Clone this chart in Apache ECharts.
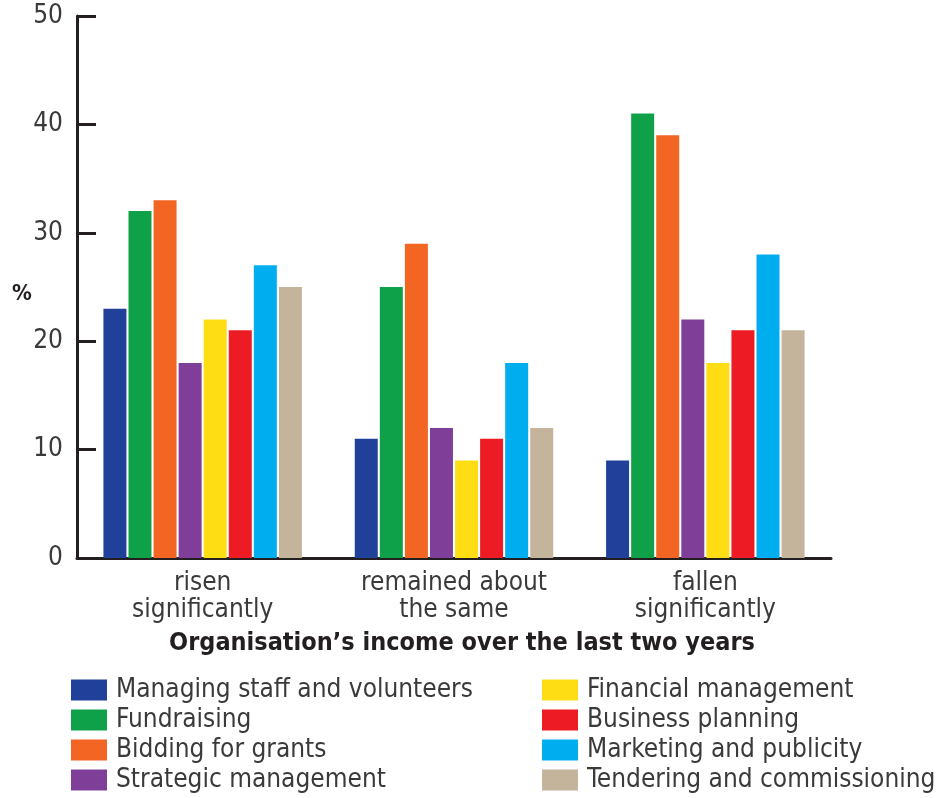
<!DOCTYPE html>
<html>
<head>
<meta charset="utf-8">
<script src="https://cdn.jsdelivr.net/npm/echarts@6/dist/echarts.min.js"></script>
<style>
  html, body { margin: 0; padding: 0; background: #fff; }
  #chart { width: 944px; height: 798px; }
</style>
</head>
<body>
<div id="chart"></div>
<script>
const categories = ['risen\nsignificantly', 'remained about\nthe same', 'fallen\nsignificantly'];
const seriesNames = [
  'Managing staff and volunteers', 'Fundraising', 'Bidding for grants', 'Strategic management',
  'Financial management', 'Business planning', 'Marketing and publicity', 'Tendering and commissioning'
];
const colors = ['#21409a', '#0fa04a', '#f26522', '#7f3f98', '#ffdd15', '#ed1c24', '#00aeef', '#c4b49c'];
const managingStaff = [23, 11, 9];
const fundraising = [32, 25, 41];
const biddingGrants = [33, 29, 39];
const strategicMgmt = [18, 12, 22];
const financialMgmt = [22, 9, 18];
const businessPlanning = [21, 11, 21];
const marketing = [27, 18, 28];
const tendering = [25, 12, 21];
const values = [managingStaff, fundraising, biddingGrants, strategicMgmt, financialMgmt, businessPlanning, marketing, tendering];

const font = "'DejaVu Sans Condensed', 'Liberation Sans Narrow', 'Open Sans', sans-serif";
const textColor = '#3a3a3a';
const axisColor = '#231f20';

const chart = echarts.init(document.getElementById('chart'));

const legendBase = {
  orient: 'vertical', top: 677, padding: 0,
  itemWidth: 36, itemHeight: 21, itemGap: 4,
  icon: 'rect',
  textStyle: { fontFamily: font, fontSize: 26, color: textColor, padding: [0, 0, 0, 4] }
};

chart.setOption({
  backgroundColor: '#fff',
  animation: false,
  textStyle: { fontFamily: font },
  grid: { left: 77, right: 113, top: 16, bottom: 240 },
  legend: [
    Object.assign({}, legendBase, { data: seriesNames.slice(0, 4), left: 71 }),
    Object.assign({}, legendBase, { data: seriesNames.slice(4), left: 542 })
  ],
  graphic: [
    {
      type: 'text', left: 12, top: 283,
      style: { text: '%', fontFamily: font, fontSize: 22, fontWeight: 'bold', fill: '#231f20' }
    }
  ],
  xAxis: {
    type: 'category',
    data: categories,
    name: 'Organisation\u2019s income over the last two years',
    nameLocation: 'middle',
    nameGap: 73,
    nameTextStyle: { fontFamily: font, fontSize: 25, fontWeight: 'bold', color: '#231f20', padding: [0, 0, 0, 16] },
    axisLine: { lineStyle: { color: axisColor, width: 3 } },
    axisTick: { inside: true, length: 13, lineStyle: { color: axisColor, width: 3 } },
    axisLabel: { fontFamily: font, fontSize: 26, color: textColor, lineHeight: 27, margin: 12 }
  },
  yAxis: {
    type: 'value',
    min: 0, max: 50, interval: 10,
    axisLine: { show: true, lineStyle: { color: axisColor, width: 3 } },
    axisTick: { show: true, inside: true, length: 19, lineStyle: { color: axisColor, width: 3 } },
    axisLabel: { fontFamily: font, fontSize: 26, color: textColor, margin: 14 },
    splitLine: { show: false }
  },
  series: values.map((v, i) => ({
    name: seriesNames[i],
    type: 'bar',
    data: v,
    barWidth: 23,
    barGap: '9%',
    itemStyle: { color: colors[i] }
  }))
});
</script>
</body>
</html>
